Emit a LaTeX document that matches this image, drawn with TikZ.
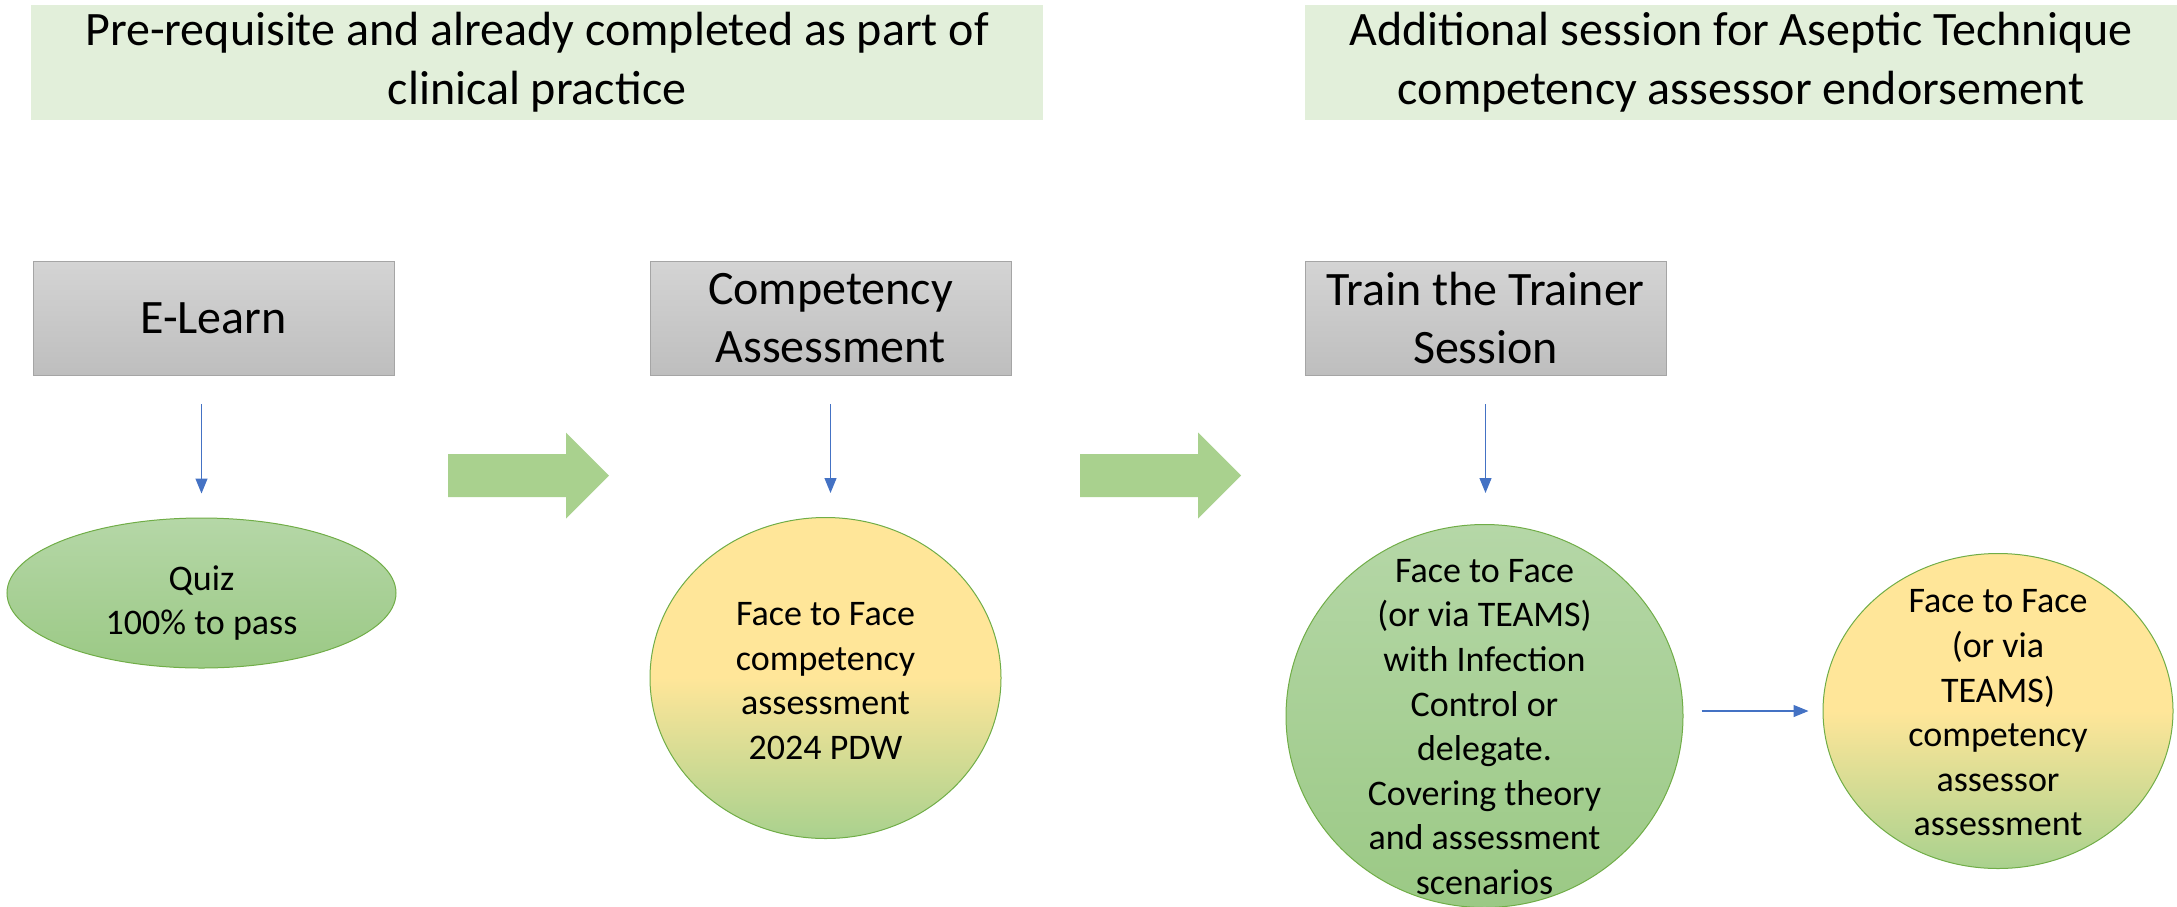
\documentclass[tikz,border=0pt]{standalone}
\usepackage{fontspec}
\setmainfont{Carlito}
\usetikzlibrary{arrows.meta,positioning,shapes.geometric}
\definecolor{bandgreen}{HTML}{E2EFDA}
\definecolor{stagetop}{HTML}{D4D4D4}
\definecolor{stagebottom}{HTML}{BEBEBE}
\definecolor{stageline}{HTML}{A5A5A5}
\definecolor{leafgreen}{HTML}{A9D18E}
\definecolor{palegreen}{HTML}{B5D7A7}
\definecolor{deepgreen}{HTML}{9BC985}
\definecolor{rimgreen}{HTML}{70AD47}
\definecolor{sunyellow}{HTML}{FFE699}
\definecolor{linkblue}{HTML}{4472C4}

\begin{document}
\begin{tikzpicture}[x=0.5pt, y=-0.5pt,
    every node/.style={font=\fontsize{18}{22.3}\selectfont, align=center, inner sep=0pt},
    band/.style={fill=bandgreen, minimum height=57.5pt, font=\fontsize{24}{29.5}\selectfont},
    stage/.style={draw=stageline, top color=stagetop, bottom color=stagebottom, minimum width=180.5pt, minimum height=57pt, font=\fontsize{24}{29}\selectfont},
    blob/.style={ellipse, draw=rimgreen, line width=0.5pt},
    greenblob/.style={blob, top color=palegreen, bottom color=deepgreen},
    mixblob/.style={blob, top color=sunyellow, bottom color=leafgreen, middle color=sunyellow},
    bigstep/.pic={\fill[leafgreen] (-80,-21.5) -- (38,-21.5) -- (38,-43) -- (81,0) -- (38,43) -- (38,21.5) -- (-80,21.5) -- cycle;},
    link/.style={draw=linkblue, line width=0.6pt, -{Triangle[width=6pt, length=7.5pt]}}
]
\useasboundingbox (0,0) rectangle (2177,906);
\node[band, minimum width=506pt] (prior) at (537,62) {Pre-requisite and already completed as part of\\clinical practice};
\node[band, minimum width=436pt] (extra) at (1741,62) {Additional session for Aseptic Technique\\competency assessor endorsement};
\node[stage] (elearn) at (213.5,318) {E-Learn};
\node[stage] (compet) at (830.5,318) {Competency\\Assessment};
\node[stage] (trainer) at (1485.5,318) {Train the Trainer\\Session};
\node[greenblob, minimum width=194.5pt, minimum height=75pt, label={[yshift=-5pt]center:{Quiz\\100\% to pass}}] (quiz) at (201.5,593) {};
\node[mixblob, minimum width=175.5pt, minimum height=160.5pt, label={[yshift=-1.5pt]center:{Face to Face\\competency\\assessment\\2024 PDW}}] (facecomp) at (825.5,678) {};
\node[greenblob, minimum width=198.5pt, minimum height=191.5pt, label={[yshift=-5.5pt]center:{Face to Face\\(or via TEAMS)\\with Infection\\Control or\\delegate.\\Covering theory\\and assessment\\scenarios}}] (faceic) at (1484.5,716) {};
\node[mixblob, minimum width=175pt, minimum height=157.5pt, label={[yshift=-1pt]center:{Face to Face\\(or via\\TEAMS)\\competency\\assessor\\assessment}}] (faceassess) at (1998,711) {};
\pic at (528,475.5) {bigstep};
\pic at (1160,475.5) {bigstep};
\draw[link, shorten <=14.5pt, shorten >=12pt] (quiz.north |- elearn.south) -- (quiz.north);
\draw[link, shorten <=14.5pt, shorten >=12pt] (compet.south) -- (compet.south |- facecomp.north);
\draw[link, shorten <=14.5pt, shorten >=15.5pt] (trainer.south) -- (trainer.south |- faceic.north);
\draw[link, shorten <=9pt, shorten >=7pt] (faceic.east |- faceassess.west) -- (faceassess.west);
\end{tikzpicture}
\end{document}
